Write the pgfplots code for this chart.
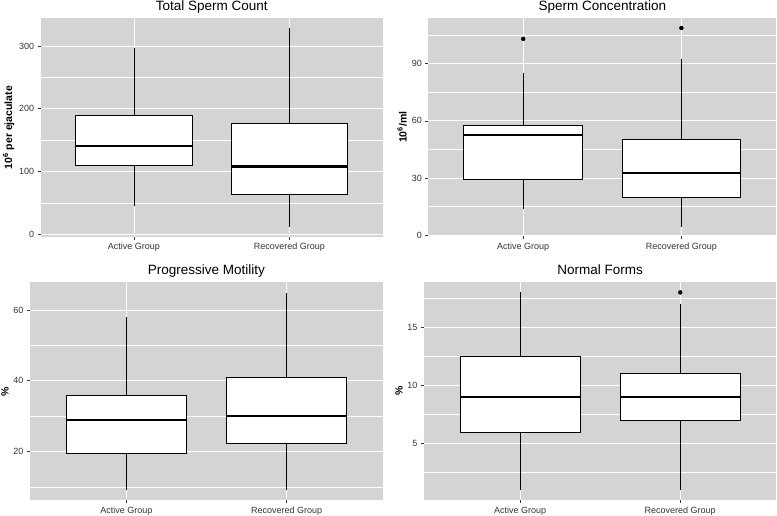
\documentclass[border=0pt]{standalone}
\usepackage{fontspec}
\setmainfont{Liberation Sans}
\usepackage{pgfplots}
\pgfplotsset{compat=1.18}
\usepgfplotslibrary{statistics}

\definecolor{bggray}{HTML}{D4D4D4}
\definecolor{txtgray}{HTML}{333333}

\pgfplotsset{
  ggbox/.style={
    scale only axis,
    anchor=south west,
    xmin=0.4, xmax=2.6,
    xtick={1,2},
    xticklabels={Active Group, Recovered Group},
    axis background/.style={fill=bggray},
    axis line style={draw=none},
    tick align=outside,
    xtick pos=bottom, ytick pos=left,
    major tick length=3pt,
    minor tick length=0pt,
    tick style={txtgray, line width=0.6pt},
    xmajorgrids, ymajorgrids, yminorgrids,
    major grid style={white, line width=0.9pt},
    minor grid style={white, line width=0.45pt},
    /pgf/number format/assume math mode=true,
    tick label style={font=\fontsize{9}{10}\selectfont, text=txtgray},
    every axis title/.style={font=\fontsize{13.5}{15}\selectfont, at={(0.5,1)}, anchor=base, yshift=7.5pt},
    ylabel style={font=\bfseries\fontsize{10.5}{12}\selectfont, yshift=-2pt},
    boxplot/draw direction=y,
    boxplot/box extend=0.75,
    boxplot/whisker extend=0,
  },
  ggb/.style={draw=black, fill=white, line width=0.8pt,
    boxplot/every median/.style={line width=2.1pt}},
  ggo/.style={ggb, mark=*, mark size=2pt, mark options={fill=black, line width=0.3pt}},
}

\begin{document}
\begin{tikzpicture}
\path[use as bounding box] (0,0) rectangle (777pt,516pt);

% Total Sperm Count
\begin{axis}[ggbox, at={(40.7pt,279.3pt)}, width=342pt, height=218.2pt,
  ymin=-3.8, ymax=343.8, ytick={0,100,200,300}, minor ytick={50,150,250},
  title={Total Sperm Count}, ylabel={10\textsuperscript{6} per ejaculate}]
\addplot[ggb, boxplot prepared={draw position=1, lower whisker=45, lower quartile=110, median=140, upper quartile=190, upper whisker=297}] coordinates {};
\addplot[ggb, boxplot prepared={draw position=2, lower whisker=12, lower quartile=63, median=108, upper quartile=176, upper whisker=328}] coordinates {};
\end{axis}

% Sperm Concentration
\begin{axis}[ggbox, at={(428.3pt,280pt)}, width=348pt, height=217.7pt,
  ymin=-0.4, ymax=113.8, ytick={0,30,60,90}, minor ytick={15,45,75,105},
  title={Sperm Concentration}, ylabel={10\textsuperscript{6}/ml}]
\addplot[ggo, boxplot prepared={draw position=1, lower whisker=14, lower quartile=29.4, median=52.4, upper quartile=57.4, upper whisker=85}] table[row sep=\\, y index=0] {\\ 103\\};
\addplot[ggo, boxplot prepared={draw position=2, lower whisker=4.5, lower quartile=19.9, median=32.5, upper quartile=50.4, upper whisker=92.2}] table[row sep=\\, y index=0] {\\ 108.7\\};
\end{axis}

% Progressive Motility
\begin{axis}[ggbox, at={(30pt,15.7pt)}, width=353pt, height=217.8pt,
  ymin=6.2, ymax=67.8, ytick={20,40,60}, minor ytick={10,30,50},
  title={Progressive Motility}, ylabel={\%}]
\addplot[ggb, boxplot prepared={draw position=1, lower whisker=9.1, lower quartile=19.5, median=29, upper quartile=36, upper whisker=57.9}] coordinates {};
\addplot[ggb, boxplot prepared={draw position=2, lower whisker=9.1, lower quartile=22.3, median=30, upper quartile=40.9, upper whisker=64.9}] coordinates {};
\end{axis}

% Normal Forms
\begin{axis}[ggbox, at={(424pt,16pt)}, width=352.3pt, height=217.5pt,
  ymin=0.15, ymax=18.85, ytick={5,10,15}, minor ytick={2.5,7.5,12.5,17.5},
  title={Normal Forms}, ylabel={\%}]
\addplot[ggb, boxplot prepared={draw position=1, lower whisker=1, lower quartile=6, median=9, upper quartile=12.5, upper whisker=18}] coordinates {};
\addplot[ggo, boxplot prepared={draw position=2, lower whisker=1, lower quartile=7, median=9, upper quartile=11, upper whisker=17}] table[row sep=\\, y index=0] {\\ 18\\};
\end{axis}
\end{tikzpicture}
\end{document}
